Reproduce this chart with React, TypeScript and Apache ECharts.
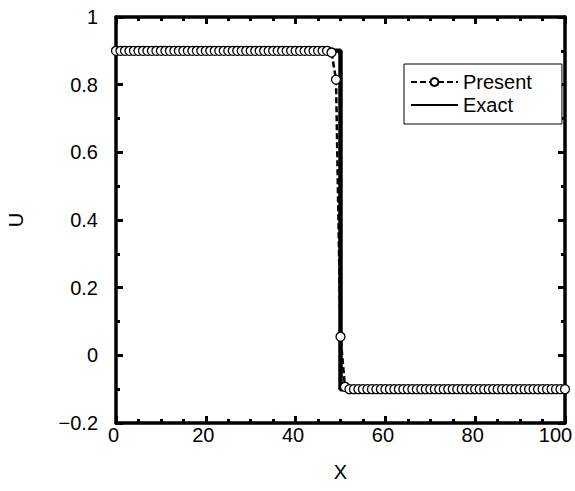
import React, { useEffect, useRef } from "react";
import * as echarts from "echarts";

// Numerical solution sampled on the grid x = 0..100
const presentX = [
  0, 1, 2, 3, 4, 5, 6, 7, 8, 9, 10, 11, 12, 13, 14, 15, 16, 17, 18, 19, 20,
  21, 22, 23, 24, 25, 26, 27, 28, 29, 30, 31, 32, 33, 34, 35, 36, 37, 38, 39, 40,
  41, 42, 43, 44, 45, 46, 47, 48, 49, 50, 51, 52, 53, 54, 55, 56, 57, 58, 59, 60,
  61, 62, 63, 64, 65, 66, 67, 68, 69, 70, 71, 72, 73, 74, 75, 76, 77, 78, 79, 80,
  81, 82, 83, 84, 85, 86, 87, 88, 89, 90, 91, 92, 93, 94, 95, 96, 97, 98, 99, 100,
];
const presentU = [
  0.9, 0.9, 0.9, 0.9, 0.9, 0.9, 0.9, 0.9, 0.9, 0.9, 0.9, 0.9, 0.9, 0.9, 0.9, 0.9,
  0.9, 0.9, 0.9, 0.9, 0.9, 0.9, 0.9, 0.9, 0.9, 0.9, 0.9, 0.9, 0.9, 0.9, 0.9, 0.9,
  0.9, 0.9, 0.9, 0.9, 0.9, 0.9, 0.9, 0.9, 0.9, 0.9, 0.9, 0.9, 0.9, 0.9, 0.9, 0.9,
  0.895, 0.815, 0.055, -0.093,
  -0.1, -0.1, -0.1, -0.1, -0.1, -0.1, -0.1, -0.1, -0.1, -0.1, -0.1, -0.1, -0.1,
  -0.1, -0.1, -0.1, -0.1, -0.1, -0.1, -0.1, -0.1, -0.1, -0.1, -0.1, -0.1, -0.1,
  -0.1, -0.1, -0.1, -0.1, -0.1, -0.1, -0.1, -0.1, -0.1, -0.1, -0.1, -0.1, -0.1,
  -0.1, -0.1, -0.1, -0.1, -0.1, -0.1, -0.1, -0.1, -0.1, -0.1, -0.1, -0.1,
];

// Exact step solution
const exactX = [0, 50, 50, 100];
const exactU = [0.9, 0.9, -0.1, -0.1];

const xTicks = { min: 0, max: 100, interval: 20 };
const yTicks = { min: -0.2, max: 1, interval: 0.2 };

const FONT = "'Liberation Sans', Arial, sans-serif";
const FS = 20;

const fmtY = (v: number) => {
  const r = parseFloat(v.toFixed(1));
  return r < 0 ? "\u2212" + Math.abs(r) : String(r);
};

// the last x label is nudged inward so it stays on the canvas
const fmtX = (v: number) => (v >= xTicks.max ? `{last|${v}}` : `{n|${v}}`);

export default function App() {
  const ref = useRef<HTMLDivElement>(null);

  useEffect(() => {
    if (!ref.current) return;
    const chart = echarts.init(ref.current, undefined, { renderer: "svg" });

    const axisLine = { show: true, onZero: false, lineStyle: { color: "#000", width: 3.5 } };
    const tick = { show: true, inside: true, length: 7, lineStyle: { color: "#000", width: 3 } };
    const minor = (n: number) => ({
      show: true,
      splitNumber: n,
      length: 4,
      lineStyle: { color: "#000", width: 3 },
    });
    const txt = { fontFamily: FONT, fontSize: FS, color: "#000" };

    chart.setOption({
      animation: false,
      backgroundColor: "#fff",
      textStyle: { fontFamily: FONT },
      grid: {
        left: 116,
        right: 10,
        top: 17,
        bottom: 68,
        containLabel: false,
        outerBoundsMode: "none",
      },
      legend: {
        orient: "vertical",
        left: 404,
        top: 64,
        backgroundColor: "#fff",
        borderColor: "#000",
        borderWidth: 1,
        borderRadius: 0,
        padding: [8, 30, 9, 6],
        itemGap: 3,
        itemWidth: 47,
        itemHeight: 10,
        textStyle: txt,
        data: ["Present", { name: "Exact", itemStyle: { opacity: 0 } }],
      },
      xAxis: [
        {
          type: "value",
          ...xTicks,
          position: "bottom",
          name: "X",
          nameLocation: "middle",
          nameGap: 39,
          nameTextStyle: txt,
          axisLine,
          axisTick: tick,
          minorTick: minor(4),
          splitLine: { show: false },
          axisLabel: {
            ...txt,
            margin: 2,
            formatter: fmtX,
            rich: {
              n: { ...txt, padding: [0, 5, 0, 0] },
              last: { ...txt, padding: [0, 19, 0, 0] },
            },
          },
        },
        {
          type: "value",
          ...xTicks,
          position: "top",
          axisLine,
          axisTick: tick,
          minorTick: minor(4),
          splitLine: { show: false },
          axisLabel: { show: false },
        },
      ],
      yAxis: [
        {
          type: "value",
          ...yTicks,
          position: "left",
          name: "U",
          nameLocation: "middle",
          nameGap: 90,
          nameTextStyle: txt,
          axisLine,
          axisTick: tick,
          minorTick: minor(2),
          splitLine: { show: false },
          axisLabel: { ...txt, margin: 18, formatter: fmtY },
        },
        {
          type: "value",
          ...yTicks,
          position: "right",
          axisLine,
          axisTick: tick,
          minorTick: minor(2),
          splitLine: { show: false },
          axisLabel: { show: false },
        },
      ],
      series: [
        {
          name: "Exact",
          type: "line",
          data: exactX.map((x, i) => [x, exactU[i]]),
          showSymbol: false,
          lineStyle: { color: "#000", width: 4.5 },
          itemStyle: { color: "#000" },
          z: 2,
        },
        {
          name: "Present",
          type: "line",
          data: presentX.map((x, i) => [x, presentU[i]]),
          symbol: "circle",
          symbolSize: 9,
          showAllSymbol: true,
          lineStyle: { color: "#000", width: 2.5, type: [6, 3] },
          itemStyle: { color: "#fff", borderColor: "#000", borderWidth: 1.3 },
          z: 3,
        },
      ],
    });

    return () => chart.dispose();
  }, []);

  return (
    <div
      ref={ref}
      style={{ position: "absolute", left: 0, top: 0, width: 575, height: 491 }}
    />
  );
}
